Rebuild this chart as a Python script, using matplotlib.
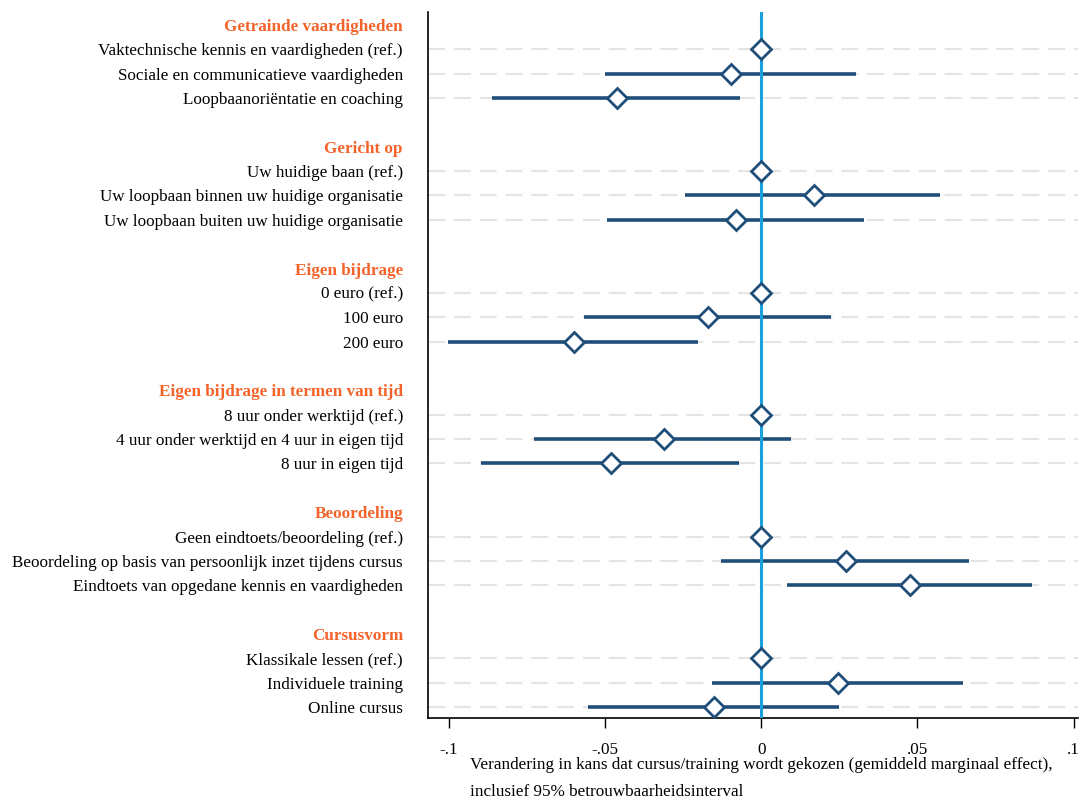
import numpy as np
import matplotlib
matplotlib.use("Agg")
import matplotlib.pyplot as plt
import matplotlib.transforms as mtransforms

plt.rcParams["font.family"] = ["Liberation Serif", "DejaVu Serif"]

groups = ["Getrainde vaardigheden", "Gericht op", "Eigen bijdrage",
          "Eigen bijdrage in termen van tijd", "Beoordeling", "Cursusvorm"]

items = [
    ["Vaktechnische kennis en vaardigheden (ref.)",
     "Sociale en communicatieve vaardigheden",
     "Loopbaanoriëntatie en coaching"],
    ["Uw huidige baan (ref.)",
     "Uw loopbaan binnen uw huidige organisatie",
     "Uw loopbaan buiten uw huidige organisatie"],
    ["0 euro (ref.)", "100 euro", "200 euro"],
    ["8 uur onder werktijd (ref.)",
     "4 uur onder werktijd en 4 uur in eigen tijd",
     "8 uur in eigen tijd"],
    ["Geen eindtoets/beoordeling (ref.)",
     "Beoordeling op basis van persoonlijk inzet tijdens cursus",
     "Eindtoets van opgedane kennis en vaardigheden"],
    ["Klassikale lessen (ref.)", "Individuele training", "Online cursus"],
]

# marginal effects and 95% CI per item
effect = [
    [0.0, -0.0096, -0.0462],
    [0.0, 0.0169, -0.0082],
    [0.0, -0.0170, -0.0600],
    [0.0, -0.0311, -0.0480],
    [0.0, 0.0270, 0.0476],
    [0.0, 0.0247, -0.0150],
]
ci_low = [
    [0.0, -0.0500, -0.0860],
    [0.0, -0.0243, -0.0493],
    [0.0, -0.0567, -0.1003],
    [0.0, -0.0728, -0.0896],
    [0.0, -0.0128, 0.0082],
    [0.0, -0.0156, -0.0554],
]
ci_high = [
    [0.0, 0.0303, -0.0067],
    [0.0, 0.0573, 0.0330],
    [0.0, 0.0225, -0.0201],
    [0.0, 0.0097, -0.0071],
    [0.0, 0.0666, 0.0868],
    [0.0, 0.0647, 0.0249],
]

xticks = [-0.1, -0.05, 0, 0.05, 0.1]
xticklabels = ["-.1", "-.05", "0", ".05", ".1"]

navy = "#1F4E79"
orange = "#F4632A"
zero_blue = "#1AA0DB"
fs = 12.3

fig = plt.figure(figsize=(10.81, 8.0), dpi=100)
ax = fig.add_axes([428 / 1081, 82 / 800, (1078 - 428) / 1081, (788 - 82) / 800])

ypos, ylabels, header_pos = [], [], []
slot = 0
for g, name in enumerate(groups):
    header_pos.append(slot)
    ypos.append(slot)
    ylabels.append(name)
    slot += 1
    for k, lab in enumerate(items[g]):
        y = slot
        ax.axhline(y, color="#E4E4E4", lw=1.5, ls=(0, (8.2, 4.2)), zorder=0)
        if ci_low[g][k] != ci_high[g][k]:
            ax.plot([ci_low[g][k], ci_high[g][k]], [y, y], color=navy,
                    lw=2.6, solid_capstyle="butt", zorder=2)
        ax.plot(effect[g][k], y, marker="D", ms=10, mfc="white",
                mec=navy, mew=2.0, zorder=4)
        ypos.append(y)
        ylabels.append(lab)
        slot += 1
    slot += 1

ax.axvline(0, color=zero_blue, lw=2.2, zorder=3)

ax.set_ylim(slot - 2 + 0.45, -0.53)
ax.set_xlim(-0.1066, 0.1014)
ax.set_yticks(ypos)
ax.set_yticklabels(ylabels, fontsize=fs)
ax.tick_params(axis="y", length=0, pad=18)
for lbl, y in zip(ax.get_yticklabels(), ypos):
    if y in header_pos:
        lbl.set_color(orange)
        lbl.set_fontweight("bold")

ax.set_xticks(xticks)
ax.set_xticklabels(xticklabels, fontsize=fs)
ax.tick_params(axis="x", length=7, width=1, pad=10)

for side in ["top", "right"]:
    ax.spines[side].set_visible(False)
ax.spines["left"].set_linewidth(1.2)
ax.spines["bottom"].set_linewidth(1.2)

trans = mtransforms.blended_transform_factory(ax.transData, fig.transFigure)
ax.text(0, 43 / 800, "Verandering in kans dat cursus/training wordt gekozen "
        "(gemiddeld marginaal effect),\ninclusief 95% betrouwbaarheidsinterval",
        transform=trans, ha="center", va="top", multialignment="left",
        fontsize=fs, linespacing=1.9)

fig.savefig("out.png", dpi=100)
